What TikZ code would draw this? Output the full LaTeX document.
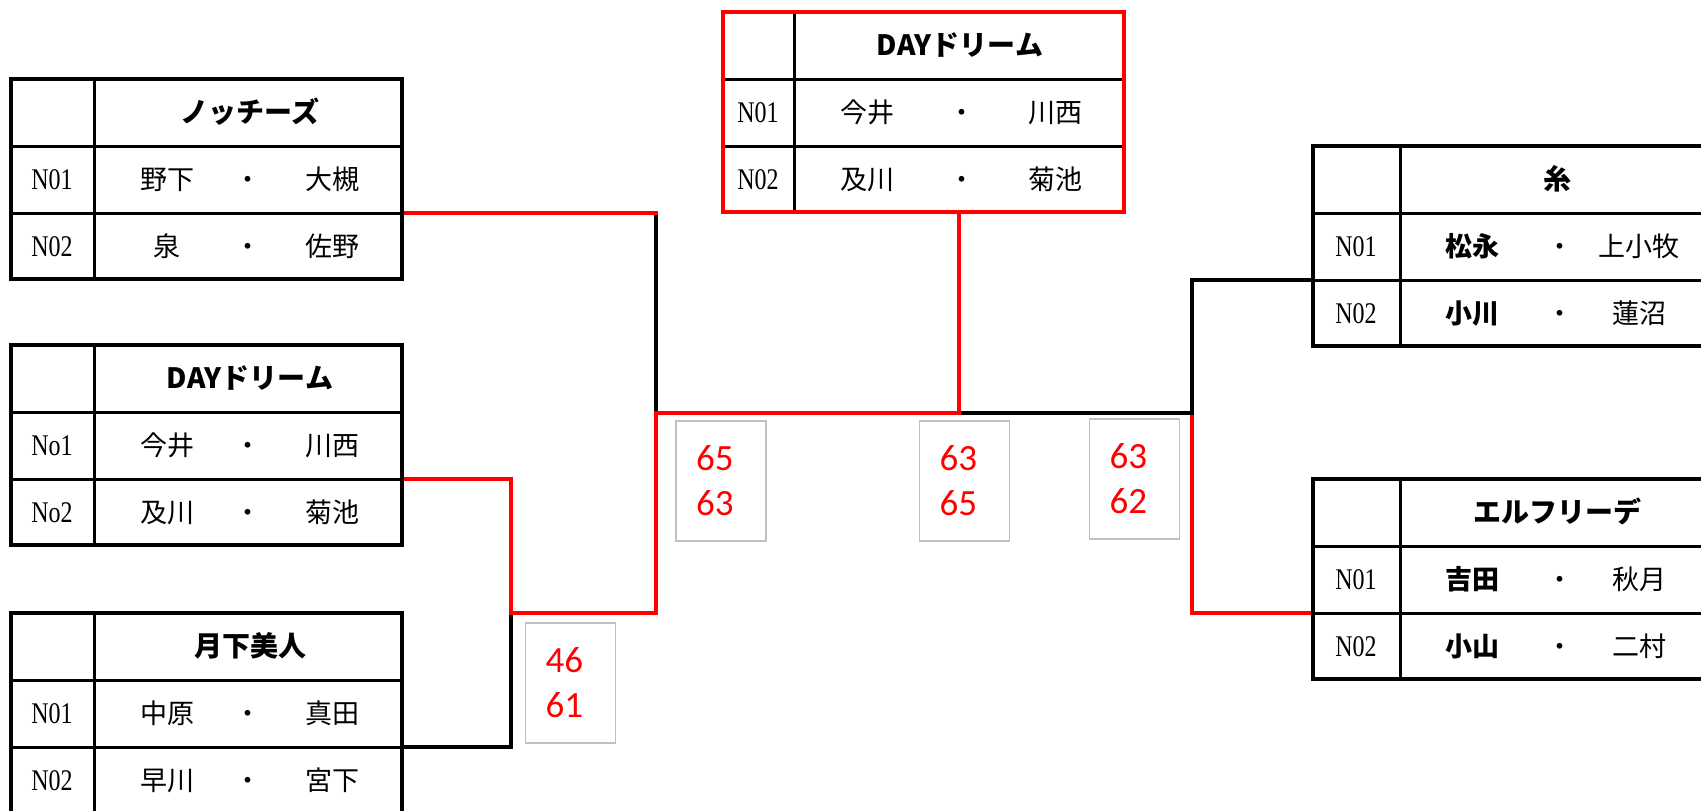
\documentclass[tikz,border=0pt]{standalone}
\usepackage{fontspec}
\setmainfont{Liberation Serif}
\newfontfamily\cjk{Noto Sans CJK JP}
\newfontfamily\rowfont[FakeStretch=0.8]{Liberation Serif}
\newfontfamily\scorefont{Carlito}
\usepackage{tikz}
\usetikzlibrary{backgrounds}
\definecolor{winred}{RGB}{255,0,0}
\definecolor{boxgray}{RGB}{191,191,191}
\tikzset{
	rule/.style={line width=3pt},
	winline/.style={line width=4.5pt, color=winred, line cap=rect},
	pathline/.style={line width=4.5pt, color=black, line cap=rect},
	player/.style={font=\cjk\fontsize{27}{27}\selectfont, inner sep=0pt, text height=22pt, text depth=2pt},
	header/.style={player, font=\cjk\bfseries\fontsize{28}{28}\selectfont},
	rowlabel/.style={font=\rowfont\fontsize{30}{30}\selectfont, inner sep=0pt, text height=20pt, text depth=0pt},
	scorebox/.style={draw=boxgray, line width=1.5pt, text=winred, font=\scorefont\fontsize{37}{45}\selectfont, align=left, text width=50pt, inner xsep=20pt, inner ysep=0pt, minimum height=120pt},
}
% frame of one team: colour, left/top corner, label column : width, name
\def\teamframe[#1](#2,#3)(#4:#5)#6{%
	\draw[rule] (#2+#4,#3) -- (#2+#4,#3+200);
	\draw[rule] (#2,#3+67) -- (#2+#5,#3+67);
	\draw[rule] (#2,#3+134) -- (#2+#5,#3+134);
	\draw[line width=4.5pt, color=#1] (#2,#3) rectangle (#2+#5,#3+200);
	\coordinate (#6-e) at (#2+#5,#3+134);
	\coordinate (#6-w) at (#2,#3+134);
	\coordinate (#6-s) at (#2+#4/2+#5/2,#3+200);}
% one pair: label x, left x, dot x, right x; y, name, label, players
\def\pairrow(#1:#2:#3:#4)#5#6#7#8#9{%
	\node[rowlabel] (#6-no) at (#1,#5) {#7};
	\node[player] (#6-a) at (#2,#5) {#8};
	\node[player] (#6-dot) at (#3,#5) {・};
	\node[player] (#6-b) at (#4,#5) {#9};}

\begin{document}
\begin{tikzpicture}[x=1pt, y=-1pt]
	%%%%% START %%%%%
	\useasboundingbox (0,0) rectangle (1701,811);
	
	% left block
	\teamframe[black](11,79)(83:391){notch}
	\node[header] (notch-h) at (250,112) {ノッチーズ};
	\pairrow(52:167:248:332){179}{notch1}{N01}{野下}{大槻}
	\pairrow(52:167:248:332){246}{notch2}{N02}{泉}{佐野}
	
	\teamframe[black](11,345)(83:391){dayL}
	\node[header] (dayL-h) at (250,378) {DAYドリーム};
	\pairrow(52:167:248:332){445}{dayL1}{No1}{今井}{川西}
	\pairrow(52:167:248:332){512}{dayL2}{No2}{及川}{菊池}
	
	\teamframe[black](11,613)(83:391){gekka}
	\node[header] (gekka-h) at (250,646) {月下美人};
	\pairrow(52:167:248:332){713}{gekka1}{N01}{中原}{真田}
	\pairrow(52:167:248:332){780}{gekka2}{N02}{早川}{宮下}
	
	% winner on top
	\teamframe[winred](723,12)(71:401){dayC}
	\node[header] (dayC-h) at (960,45) {DAYドリーム};
	\pairrow(758:867:962:1055){112}{dayC1}{N01}{今井}{川西}
	\pairrow(758:867:962:1055){179}{dayC2}{N02}{及川}{菊池}
	
	% right block
	\teamframe[black](1313,146)(87:400){ito}
	\node[header] (ito-h) at (1557,179) {糸};
	\pairrow(1356:1472:1560:1639){246}{ito1}{N01}{\bfseries 松永}{上小牧}
	\pairrow(1356:1472:1560:1639){313}{ito2}{N02}{\bfseries 小川}{蓮沼}
	
	\teamframe[black](1313,479)(87:400){elf}
	\node[header] (elf-h) at (1557,512) {エルフリーデ};
	\pairrow(1356:1472:1560:1639){579}{elf1}{N01}{\bfseries 吉田}{秋月}
	\pairrow(1356:1472:1560:1639){646}{elf2}{N02}{\bfseries 小山}{二村}
	
	% scores
	\node[scorebox] (score1) at (570.5,683) {46\\61};
	\node[scorebox] (score2) at (721,481) {65\\63};
	\node[scorebox] (score3) at (964.5,481) {63\\65};
	\node[scorebox] (score4) at (1134.5,479) {63\\62};
	
	% bracket lines
	\begin{pgfonlayer}{background}
		\coordinate (j1) at (511,613);
		\coordinate (j2) at (656,413);
		\coordinate (jc) at (959,413);
		\coordinate (j3) at (1192,413);
		
		\draw[winline] (elf-w) -| (j3);
		\draw[pathline] (ito-w) -| (j3);
		\draw[pathline] (jc) -- (j3);
		\draw[pathline] (gekka-e) -| (j1);
		\draw[pathline] (notch-e -| j2) -- (j2);
		
		\draw[winline] (dayL-e) -| (j1);
		\draw[winline] (j1) -| (j2);
		\draw[winline] (notch-e) -- (notch-e -| j2);
		\draw[winline] (j2) -- (jc);
		\draw[winline] (dayC-s) -- (jc);
	\end{pgfonlayer}
	
	%%%%% END %%%%%
\end{tikzpicture}
\end{document}
